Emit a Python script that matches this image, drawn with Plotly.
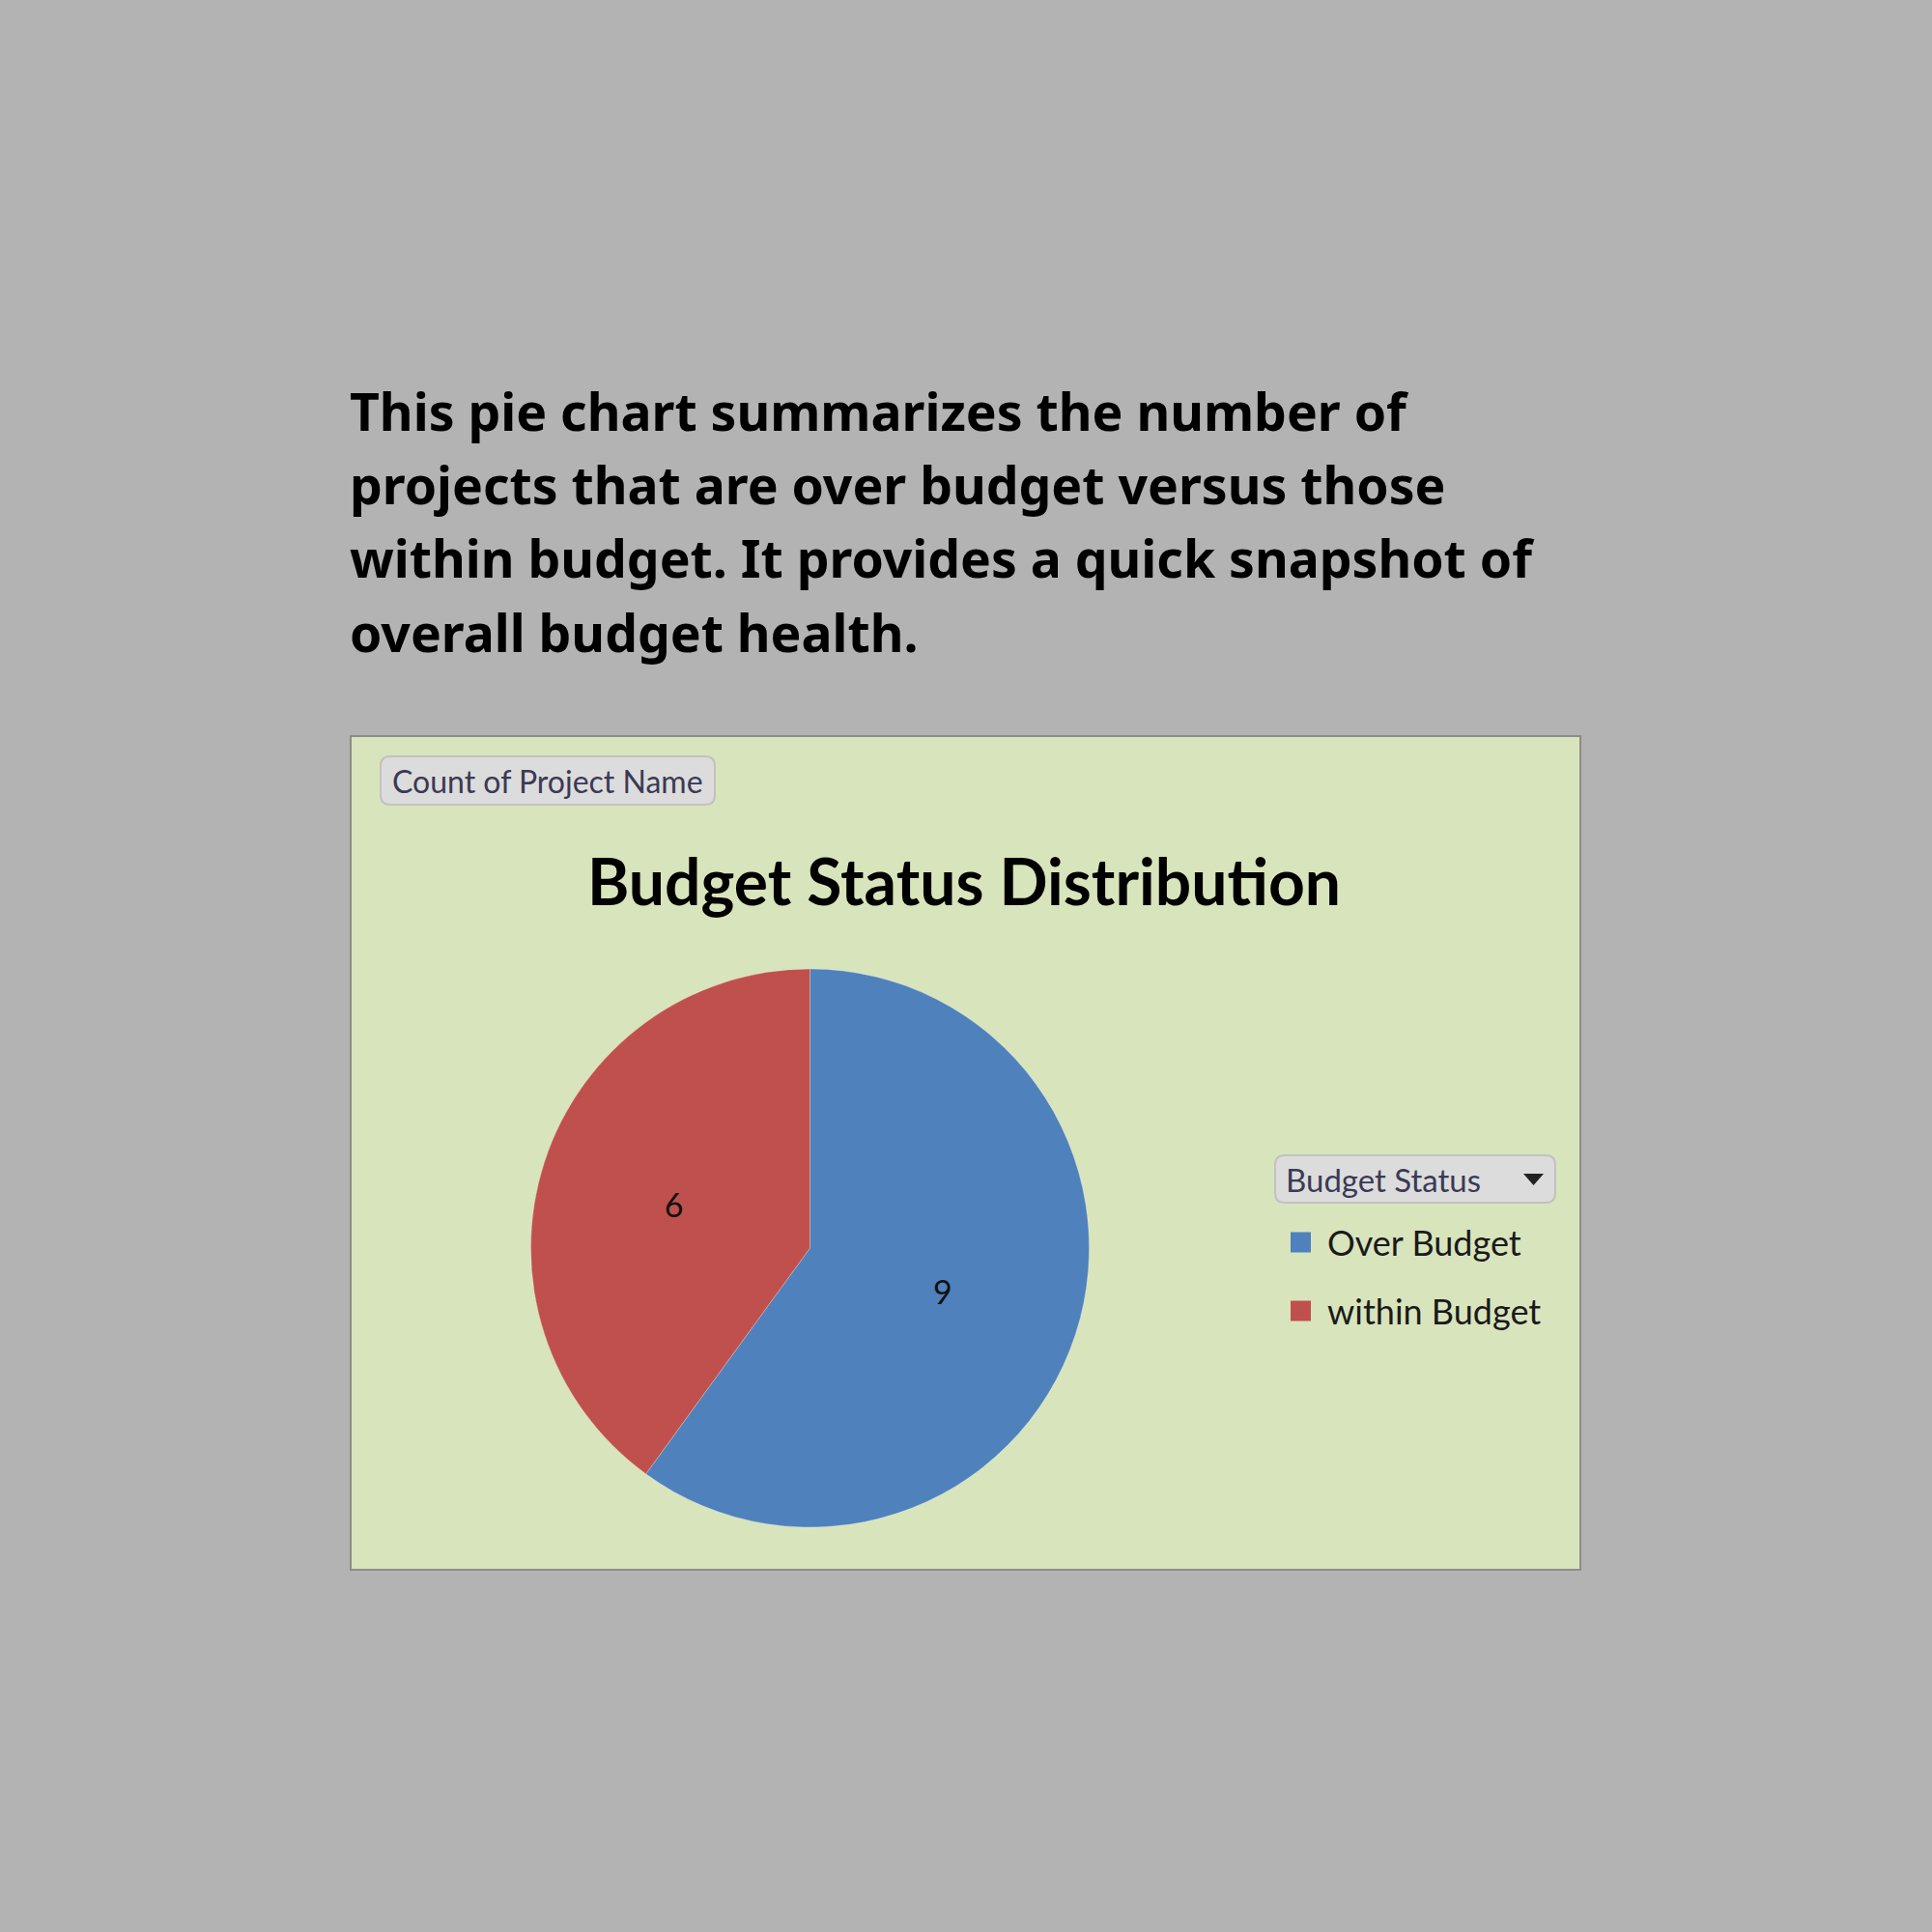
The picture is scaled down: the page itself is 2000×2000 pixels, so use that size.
import plotly.graph_objects as go

# Data
status_labels = ["Over Budget", "within Budget"]
project_counts = [9, 6]
slice_colors = ["#4F81BD", "#C0504D"]

intro_lines = [
    "This pie chart summarizes the number of",
    "projects that are over budget versus those",
    "within budget. It provides a quick snapshot of",
    "overall budget health.",
]
chart_title = "Budget Status Distribution"
value_field = "Count of Project Name"
legend_field = "Budget Status"

W, H = 2000, 2000


def px(x):
    return x / W


def py(y):
    return 1 - y / H


def rounded_rect(x0, y0, x1, y1, r):
    # pixel coords (top-left origin) -> svg path in paper coords
    pts = [
        f"M {px(x0 + r)},{py(y0)}",
        f"L {px(x1 - r)},{py(y0)}",
        f"Q {px(x1)},{py(y0)} {px(x1)},{py(y0 + r)}",
        f"L {px(x1)},{py(y1 - r)}",
        f"Q {px(x1)},{py(y1)} {px(x1 - r)},{py(y1)}",
        f"L {px(x0 + r)},{py(y1)}",
        f"Q {px(x0)},{py(y1)} {px(x0)},{py(y1 - r)}",
        f"L {px(x0)},{py(y0 + r)}",
        f"Q {px(x0)},{py(y0)} {px(x0 + r)},{py(y0)}",
        "Z",
    ]
    return " ".join(pts)


chart_font = "Lato, 'Open Sans', sans-serif"

# pie placement (pixels)
cx, cy, rad = 838.5, 1292, 289

fig = go.Figure(go.Pie(
    labels=status_labels,
    values=project_counts,
    sort=False,
    direction="clockwise",
    rotation=0,
    marker=dict(colors=slice_colors, line=dict(color="rgba(255,255,255,0.25)", width=1)),
    textinfo="value",
    textposition="inside",
    insidetextorientation="horizontal",
    textfont=dict(family=chart_font, size=34, color="#111111"),
    domain=dict(x=[px(cx - rad), px(cx + rad)], y=[py(cy + rad), py(cy - rad)]),
    showlegend=False,
    hoverinfo="label+value",
))

shapes = []
# chart panel
shapes.append(dict(
    type="rect", xref="paper", yref="paper",
    x0=px(363), x1=px(1636), y0=py(1625), y1=py(762),
    fillcolor="#D8E4BC", line=dict(color="#8C8C8C", width=2), layer="below",
))
# field buttons
shapes.append(dict(
    type="path", xref="paper", yref="paper",
    path=rounded_rect(394, 783, 740, 833, 10),
    fillcolor="#DCDCDC", line=dict(color="#C2C2C2", width=2), layer="below",
))
shapes.append(dict(
    type="path", xref="paper", yref="paper",
    path=rounded_rect(1320, 1196, 1610, 1245, 10),
    fillcolor="#DCDCDC", line=dict(color="#C2C2C2", width=2), layer="below",
))
# dropdown arrow
shapes.append(dict(
    type="path", xref="paper", yref="paper",
    path=f"M {px(1577)},{py(1215)} L {px(1598)},{py(1215)} L {px(1587.5)},{py(1227)} Z",
    fillcolor="#222222", line=dict(width=0),
))

annotations = []
# intro paragraph, one annotation per line
for i, line in enumerate(intro_lines):
    annotations.append(dict(
        xref="paper", yref="paper", x=px(360), y=py(425 + i * 76.5),
        xanchor="left", yanchor="middle", align="left", showarrow=False,
        text=line,
        font=dict(family="'Noto Sans', 'Open Sans', sans-serif", size=53.5,
                  color="#000000", weight="bold"),
    ))
annotations.append(dict(
    xref="paper", yref="paper", x=px(998), y=py(911),
    xanchor="center", yanchor="middle", showarrow=False,
    text=f"<b>{chart_title}</b>",
    font=dict(family=chart_font, size=66, color="#000000"),
))
annotations.append(dict(
    xref="paper", yref="paper", x=px(404), y=py(808),
    xanchor="left", yanchor="middle", showarrow=False,
    text=value_field,
    font=dict(family=chart_font, size=32, color="#3A3A55"),
))
annotations.append(dict(
    xref="paper", yref="paper", x=px(1329), y=py(1221),
    xanchor="left", yanchor="middle", showarrow=False,
    text=legend_field,
    font=dict(family=chart_font, size=33, color="#3A3A55"),
))

# legend entries
for i, (lab, col) in enumerate(zip(status_labels, slice_colors)):
    yc = 1286 + i * 71
    shapes.append(dict(
        type="rect", xref="paper", yref="paper",
        x0=px(1336), x1=px(1357), y0=py(yc + 10.5), y1=py(yc - 10.5),
        fillcolor=col, line=dict(width=0),
    ))
    annotations.append(dict(
        xref="paper", yref="paper", x=px(1372), y=py(yc),
        xanchor="left", yanchor="middle", showarrow=False,
        text=lab,
        font=dict(family=chart_font, size=36, color="#1A1A1A"),
    ))

fig.update_layout(
    width=W, height=H,
    margin=dict(l=0, r=0, t=0, b=0),
    paper_bgcolor="#B3B3B3",
    plot_bgcolor="#B3B3B3",
    shapes=shapes,
    annotations=annotations,
)

fig.write_html("out.html", config={"displayModeBar": False},
               post_script="document.body.style.margin='0';")
